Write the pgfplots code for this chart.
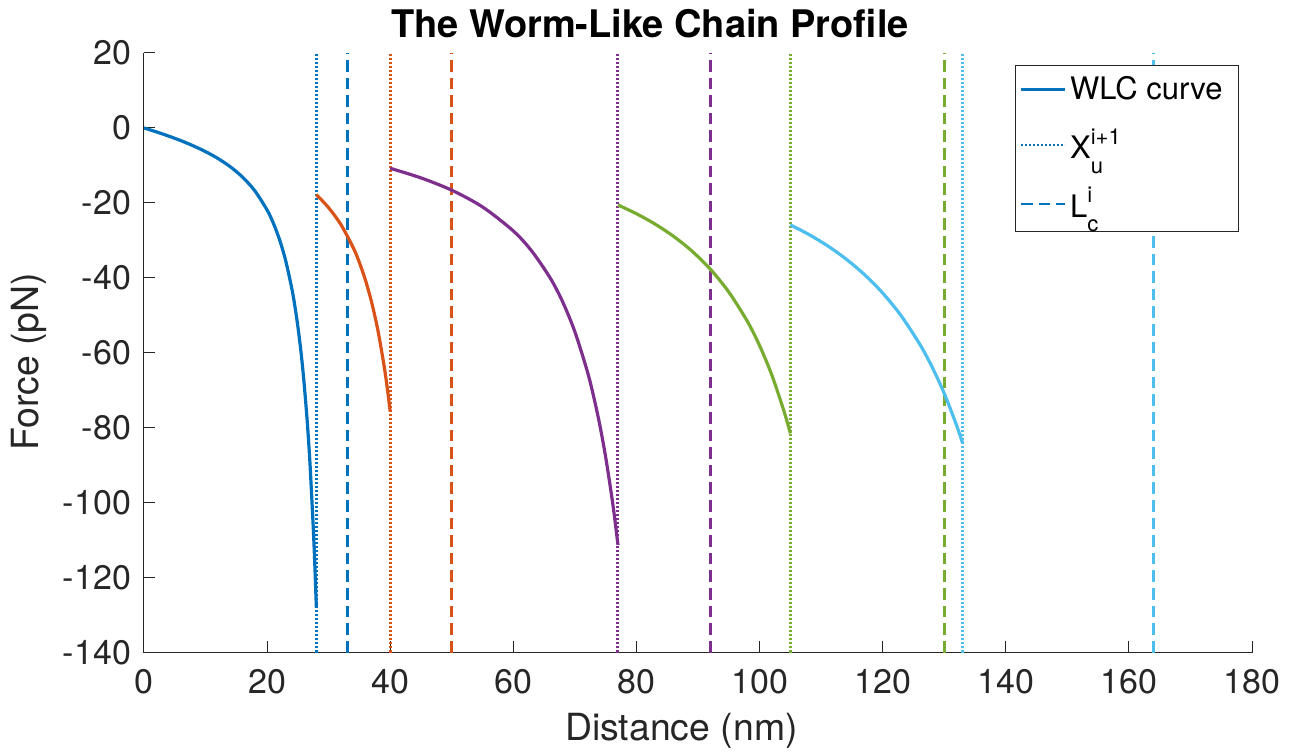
\documentclass[border=0pt]{standalone}
\usepackage{pgfplots}
\pgfplotsset{compat=1.18}
\usepackage{fontspec}
\setmainfont{TeX Gyre Heros}
\definecolor{mblue}{rgb}{0,0.447,0.741}
\definecolor{morange}{rgb}{0.85,0.325,0.098}
\definecolor{mpurple}{rgb}{0.494,0.184,0.556}
\definecolor{mgreen}{rgb}{0.466,0.674,0.188}
\definecolor{mcyan}{rgb}{0.301,0.745,0.933}
\definecolor{axgray}{rgb}{0.15,0.15,0.15}
\newcommand{\smallsc}{\fontsize{11}{11}\selectfont}
\begin{document}
\begin{tikzpicture}
\path[use as bounding box] (-72pt,-51.25pt) rectangle (573pt,326.25pt);
\begin{axis}[
  scale only axis, width=554pt, height=299.75pt,
  xmin=0, xmax=180, ymin=-140, ymax=20,
  xtick={0,20,...,180}, ytick={-140,-120,...,20},
  axis x line*=bottom, axis y line*=left,
  axis line style={-, draw=axgray, line width=0.5pt},
  tick style={draw=axgray, line width=0.5pt},
  tick align=inside, major tick length=5.5pt,
  /pgf/number format/assume math mode=true,
  ticklabel style={font=\fontsize{17}{17}\selectfont, text=axgray},
  yticklabel style={xshift=-3pt},
  xticklabel style={yshift=-5pt},
  xlabel={Distance (nm)}, ylabel={Force (pN)},
  label style={font=\fontsize{18.7}{18.7}\selectfont, text=axgray},
  xlabel style={at={(axis description cs:0.485,-0.146)}, anchor=base},
  ylabel style={at={(axis description cs:-0.0948,0.4846)}, anchor=base},
  title={The Worm-Like Chain Profile},
  title style={font=\bfseries\fontsize{19}{19}\selectfont, at={(axis description cs:0.4567,1.005)}, anchor=base},
  legend style={at={(axis description cs:0.9883,0.980)}, anchor=north east,
    draw=black!85, line width=0.5pt, fill=white, row sep=9pt,
    font=\fontsize{15.5}{18}\selectfont, inner xsep=2pt, inner ysep=3.5pt},
  legend cell align=left,
  legend image code/.code={\draw[#1, line width=1.2pt] (0pt,0pt) -- (22pt,0pt);},
  curve/.style={line width=1.6pt, smooth},
  vdot/.style={line width=1.5pt, dash pattern=on 1.2pt off 0.8pt},
  vdash/.style={line width=1.4pt, dash pattern=on 5.8pt off 3pt},
]
% segment 1
\addplot[mblue, curve] coordinates {
(0,0) (2,-1.05) (4,-2.17) (6,-3.40) (8,-4.77) (10,-6.32) (12,-8.14) (14,-10.34)
(16,-13.11) (18,-16.77) (20,-21.91) (21,-25.37) (22,-29.71) (23,-35.31) (24,-42.76)
(24.5,-47.45) (25,-53.04) (25.5,-59.74) (26,-67.90) (26.5,-77.94) (26.75,-83.88)
(27,-90.58) (27.5,-106.8) (27.75,-116.6) (28,-128.0)};
\addlegendentry{WLC curve\hspace*{4pt}}
\addplot[mblue, vdot] coordinates {(28,-140) (28,20)};
\addlegendentry{X\rlap{\raisebox{-7.5pt}{\smallsc u}}\raisebox{7pt}{\smallsc i+1}}
\addplot[mblue, vdash] coordinates {(33,-140) (33,20)};
\addlegendentry{L\rlap{\raisebox{7.5pt}{\smallsc i}}\raisebox{-7pt}{\smallsc c}}
% segment 2
\addplot[morange, curve, forget plot] coordinates {
(28,-17.8) (30,-21.31) (32,-25.83) (34,-31.99) (35,-35.96) (36,-40.76) (37,-46.66)
(38,-54.03) (39,-63.45) (39.5,-69.17) (40,-75.75)};
\addplot[morange, vdot, forget plot] coordinates {(40,-140) (40,20)};
\addplot[morange, vdash, forget plot] coordinates {(50,-140) (50,20)};
% segment 3
\addplot[mpurple, curve, forget plot] coordinates {
(40,-10.77) (45,-13.34) (50,-16.63) (55,-21.09) (60,-27.50) (63,-32.88) (66,-40.08)
(68,-46.36) (70,-54.41) (72,-64.86) (73,-71.37) (74,-78.89) (75,-87.85) (76,-98.51)
(76.5,-104.6) (77,-111.3)};
\addplot[mpurple, vdot, forget plot] coordinates {(77,-140) (77,20)};
\addplot[mpurple, vdash, forget plot] coordinates {(92,-140) (92,20)};
% segment 4
\addplot[mgreen, curve, forget plot] coordinates {
(77,-20.56) (80,-22.90) (83,-25.64) (86,-28.89) (89,-32.84) (92,-37.69) (95,-43.79)
(98,-51.56) (100,-58.07) (102,-65.98) (104,-75.75) (105,-81.52)};
\addplot[mgreen, vdot, forget plot] coordinates {(105,-140) (105,20)};
\addplot[mgreen, vdash, forget plot] coordinates {(130,-140) (130,20)};
% segment 5
\addplot[mcyan, curve, forget plot] coordinates {
(105,-25.86) (108,-28.43) (111,-31.41) (114,-34.92) (117,-39.08) (120,-44.06)
(123,-50.13) (126,-57.64) (128,-63.70) (130,-70.84) (132,-79.34) (133,-84.2)};
\addplot[mcyan, vdot, forget plot] coordinates {(133,-140) (133,20)};
\addplot[mcyan, vdash, forget plot] coordinates {(164,-140) (164,20)};
\end{axis}
\end{tikzpicture}
\end{document}
